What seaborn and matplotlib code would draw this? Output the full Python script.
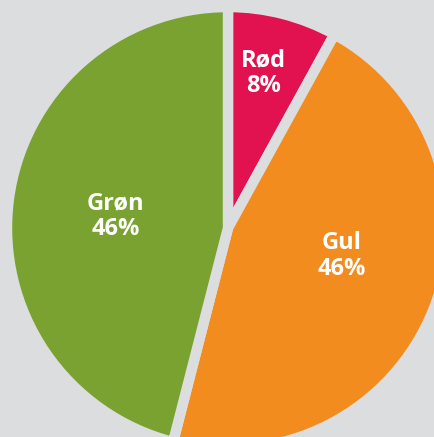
import numpy as np
import matplotlib
matplotlib.use("Agg")
import matplotlib.pyplot as plt
import seaborn as sns

# Data
categories = ["Rød", "Gul", "Grøn"]
shares = [8, 46, 46]
colors = ["#E21150", "#F28C1E", "#7AA230"]

# label placement (radius, angle in degrees) in pie units
label_pos = [(0.72, 77.0), (0.53, -14.0), (0.51, 174.0)]

background = "#DCDDDF"

sns.set_theme(style="white")
plt.rcParams["font.family"] = ["Open Sans", "DejaVu Sans"]

fig = plt.figure(figsize=(4.35, 4.37), dpi=100, facecolor=background)
ax = fig.add_axes([0, 0, 1, 1])
ax.set_facecolor(background)

wedges, _ = ax.pie(
    shares,
    colors=colors,
    startangle=90,
    counterclock=False,
    radius=1.0,
    wedgeprops=dict(edgecolor=background, linewidth=7.5),
)

for name, val, (r, th) in zip(categories, shares, label_pos):
    t = np.deg2rad(th)
    ax.text(r * np.cos(t), r * np.sin(t), f"{name}\n{val}%",
            ha="center", va="center", color="white",
            fontsize=17, fontweight="bold", linespacing=1.12)

# pixel scale: pie center at (228, 228) px from top-left, radius ~221 px
scale = 221.0
ax.set_aspect("auto")
ax.set_xlim(-228 / scale, (435 - 228) / scale)
ax.set_ylim(-(437 - 228) / scale, 228 / scale)
ax.axis("off")

fig.savefig("out.png", dpi=100, facecolor=background)
